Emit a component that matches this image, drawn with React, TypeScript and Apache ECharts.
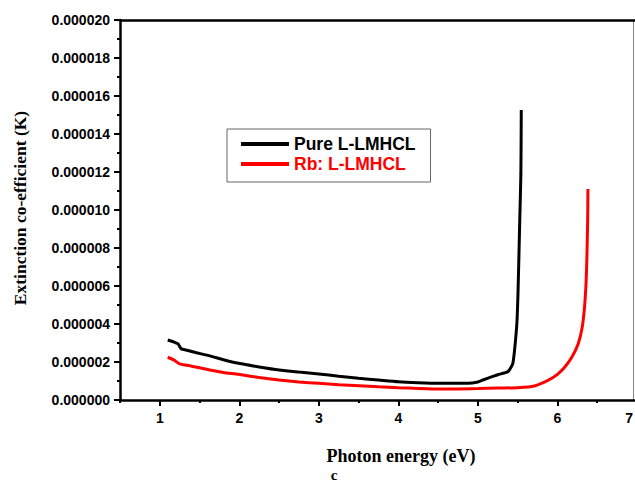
import React, { useEffect, useRef } from "react";
import * as echarts from "echarts";

const energyPure = [1.10, 1.18, 1.23, 1.27, 1.33, 1.45, 1.63, 1.8, 1.99, 2.25, 2.5, 2.75, 3.0, 3.25, 3.5, 3.75, 4.0, 4.25, 4.5, 4.87, 5.0, 5.08, 5.16, 5.25, 5.33, 5.38, 5.42, 5.44, 5.46, 5.49, 5.505, 5.525, 5.54, 5.545];
const kPure = [3.16e-6, 3.05e-6, 2.95e-6, 2.7e-6, 2.63e-6, 2.5e-6, 2.32e-6, 2.12e-6, 1.93e-6, 1.74e-6, 1.58e-6, 1.47e-6, 1.37e-6, 1.25e-6, 1.14e-6, 1.05e-6, 0.96e-6, 0.91e-6, 0.88e-6, 0.88e-6, 0.95e-6, 1.08e-6, 1.2e-6, 1.33e-6, 1.42e-6, 1.5e-6, 1.75e-6, 1.95e-6, 2.6e-6, 4.05e-6, 5.8e-6, 9.3e-6, 11.9e-6, 15.26e-6];

const energyRb = [1.10, 1.18, 1.25, 1.4, 1.63, 1.8, 1.99, 2.25, 2.5, 2.75, 3.0, 3.25, 3.51, 3.75, 4.0, 4.25, 4.51, 4.75, 5.0, 5.25, 5.5, 5.71, 5.88, 6.0, 6.09, 6.18, 6.26, 6.31, 6.34, 6.36, 6.37, 6.38, 6.383];
const kRb = [2.25e-6, 2.1e-6, 1.9e-6, 1.78e-6, 1.58e-6, 1.45e-6, 1.35e-6, 1.18e-6, 1.05e-6, 0.95e-6, 0.88e-6, 0.8e-6, 0.75e-6, 0.7e-6, 0.65e-6, 0.61e-6, 0.58e-6, 0.58e-6, 0.6e-6, 0.63e-6, 0.65e-6, 0.74e-6, 1.03e-6, 1.35e-6, 1.72e-6, 2.25e-6, 2.95e-6, 3.8e-6, 4.87e-6, 6.2e-6, 7.5e-6, 9.5e-6, 11.1e-6];

const seriesNames = ["Pure L-LMHCL", "Rb: L-LMHCL"];
const seriesColors = ["#000000", "#ff0000"];
const xMajorTicks = [1, 2, 3, 4, 5, 6, 7];
const xMinorTicks = [0.5, 1.5, 2.5, 3.5, 4.5, 5.5, 6.5];
const xTitle = "Photon energy (eV)";
const yTitle = "Extinction co-efficient (K)";
const panelLabel = "c";

const sans = "'Liberation Sans', Arial, sans-serif";
const serif = "'Liberation Serif', 'Times New Roman', serif";

export default function App() {
  const ref = useRef<HTMLDivElement>(null);
  useEffect(() => {
    if (!ref.current) return;
    const chart = echarts.init(ref.current, null, { renderer: "svg" });
    const pure = energyPure.map((x, i) => [x, kPure[i]]);
    const rb = energyRb.map((x, i) => [x, kRb[i]]);
    chart.setOption({
      animation: false,
      backgroundColor: "#ffffff",
      grid: { left: 120, width: 517, top: 20, height: 380, outerBoundsMode: "none", containLabel: false },
      legend: {
        left: 227,
        top: 129,
        orient: "vertical",
        borderColor: "#666666",
        borderWidth: 1,
        padding: [5, 15, 8, 14],
        itemGap: 0,
        itemWidth: 48,
        itemHeight: 4,
        icon: "rect",
        data: [
          { name: seriesNames[0], textStyle: { color: seriesColors[0] } },
          { name: seriesNames[1], textStyle: { color: seriesColors[1] } },
        ],
        textStyle: { fontFamily: sans, fontWeight: "bold", fontSize: 17.5, lineHeight: 20 },
      },
      xAxis: [
        {
          type: "value",
          min: 0.5,
          max: 7,
          position: "bottom",
          splitLine: { show: false },
          axisLine: { onZero: false, lineStyle: { color: "#000", width: 2.5 } },
          axisTick: { customValues: xMajorTicks, length: 6, lineStyle: { color: "#000", width: 2 } },
          axisLabel: {
            customValues: xMajorTicks,
            margin: 11,
            color: "#000",
            fontFamily: sans,
            fontWeight: "bold",
            fontSize: 14,
            showMaxLabel: true,
            alignMaxLabel: "right",
            formatter: (v: number) => (v === 7 ? `{m|${v}}` : `${v}`),
            rich: {
              m: { padding: [0, 4, 0, 0], color: "#000", fontFamily: sans, fontWeight: "bold", fontSize: 14 },
            },
          },
        },
        {
          type: "value",
          min: 0.5,
          max: 7,
          position: "bottom",
          splitLine: { show: false },
          axisLine: { show: false },
          axisTick: { customValues: xMinorTicks, length: 3, lineStyle: { color: "#000", width: 2 } },
          axisLabel: { show: false },
        },
        {
          type: "value",
          min: 0.5,
          max: 7,
          position: "top",
          splitLine: { show: false },
          axisLine: { lineStyle: { color: "#000", width: 2.5 } },
          axisTick: { show: false },
          axisLabel: { show: false },
        },
      ],
      yAxis: [
        {
          type: "value",
          min: 0,
          max: 0.00002,
          interval: 0.000002,
          splitLine: { show: false },
          axisLine: { lineStyle: { color: "#000", width: 2.5 } },
          axisTick: { length: 6, lineStyle: { color: "#000", width: 2 } },
          minorTick: { show: true, splitNumber: 2, length: 3, lineStyle: { color: "#000", width: 2 } },
          axisLabel: {
            margin: 10,
            color: "#000",
            fontFamily: sans,
            fontWeight: "bold",
            fontSize: 14,
            formatter: (v: number) => v.toFixed(6),
          },
        },
      ],
      series: [
        {
          name: seriesNames[0],
          type: "line",
          data: pure,
          showSymbol: false,
          smooth: 0.2,
          lineStyle: { color: seriesColors[0], width: 3 },
          itemStyle: { color: seriesColors[0] },
        },
        {
          name: seriesNames[1],
          type: "line",
          data: rb,
          showSymbol: false,
          smooth: 0.2,
          lineStyle: { color: seriesColors[1], width: 3 },
          itemStyle: { color: seriesColors[1] },
        },
      ],
      graphic: [
        {
          type: "line",
          shape: { x1: 633.5, y1: 20, x2: 633.5, y2: 400 },
          style: { stroke: "#888888", lineWidth: 1 },
        },
        {
          type: "text",
          x: 20,
          y: 208,
          rotation: Math.PI / 2,
          style: {
            text: yTitle,
            font: `bold 17.5px ${serif}`,
            fill: "#000",
            textAlign: "center",
            textVerticalAlign: "middle",
          },
        },
        {
          type: "text",
          x: 401,
          y: 456,
          style: {
            text: xTitle,
            font: `bold 18px ${serif}`,
            fill: "#000",
            textAlign: "center",
            textVerticalAlign: "middle",
          },
        },
        {
          type: "text",
          x: 334,
          y: 475,
          style: {
            text: panelLabel,
            font: `bold 15px ${serif}`,
            fill: "#000",
            textAlign: "center",
            textVerticalAlign: "middle",
          },
        },
      ],
    });
    return () => chart.dispose();
  }, []);
  return <div ref={ref} style={{ width: 635, height: 483, position: "fixed", left: 0, top: 0 }} />;
}
